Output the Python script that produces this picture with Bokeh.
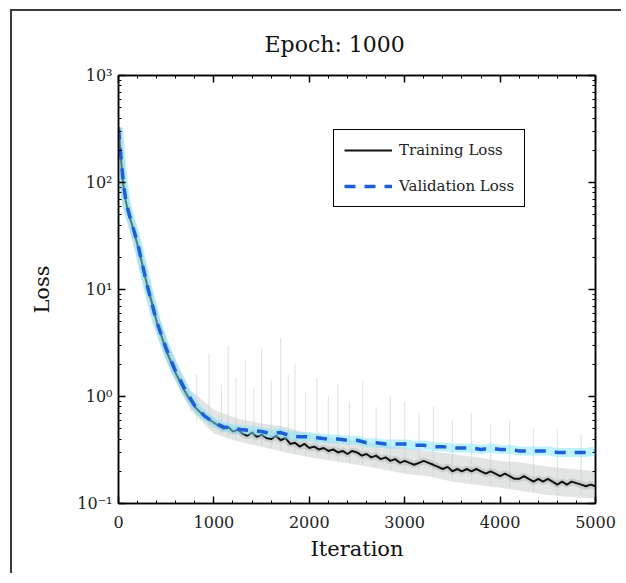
from bokeh.plotting import figure
from bokeh.models import (Range1d, FixedTicker, LinearAxis, LogAxis, Legend, LegendItem)
from bokeh.embed import file_html
from bokeh.resources import INLINE

# ---------------- data ----------------
val_iter = [0, 25, 50, 75, 100, 200, 300, 400, 500, 600, 700, 800, 900, 1000,
            1100, 1200, 1300, 1400, 1500, 1600, 1700, 1800, 1900, 2000, 2100,
            2200, 2300, 2400, 2500, 2600, 2700, 2800, 2900, 3000, 3100, 3200,
            3300, 3400, 3500, 3600, 3700, 3800, 3900, 4000, 4100, 4200, 4300,
            4400, 4500, 4600, 4700, 4800, 4900, 5000]
val_loss = [320, 175, 100, 70, 55, 27, 11, 5.0, 2.8, 1.7, 1.15, 0.82, 0.66, 0.57,
            0.52, 0.50, 0.49, 0.48, 0.47, 0.45, 0.46, 0.43, 0.42, 0.42, 0.41,
            0.40, 0.40, 0.39, 0.39, 0.37, 0.37, 0.36, 0.36, 0.36, 0.35, 0.35,
            0.34, 0.34, 0.33, 0.33, 0.33, 0.32, 0.33, 0.32, 0.32, 0.31, 0.31,
            0.31, 0.31, 0.30, 0.30, 0.30, 0.30, 0.31]

train_iter = [0, 25, 50, 75, 100, 150, 200, 250, 300, 350, 400, 450, 500, 550,
              600, 650, 700, 750, 800, 850, 900, 950, 1000, 1050, 1100, 1150,
              1200, 1250, 1300, 1350, 1400, 1450, 1500, 1550, 1600, 1650, 1700,
              1750, 1800, 1850, 1900, 1950, 2000, 2050, 2100, 2150, 2200, 2250,
              2300, 2350, 2400, 2450, 2500, 2550, 2600, 2650, 2700, 2750, 2800,
              2850, 2900, 2950, 3000, 3050, 3100, 3150, 3200, 3250, 3300, 3350,
              3400, 3450, 3500, 3550, 3600, 3650, 3700, 3750, 3800, 3850, 3900,
              3950, 4000, 4050, 4100, 4150, 4200, 4250, 4300, 4350, 4400, 4450,
              4500, 4550, 4600, 4650, 4700, 4750, 4800, 4850, 4900, 4950, 5000]
train_loss = [330, 170, 95, 68, 54, 38, 26, 17, 11, 7.5, 5.0, 3.7, 2.7, 2.1,
              1.65, 1.35, 1.1, 0.93, 0.80, 0.72, 0.66, 0.61, 0.57, 0.53, 0.50, 0.52,
              0.47, 0.49, 0.45, 0.43, 0.46, 0.42, 0.44, 0.41, 0.40, 0.43, 0.39,
              0.41, 0.36, 0.37, 0.34, 0.36, 0.33, 0.34, 0.32, 0.33, 0.31, 0.32,
              0.30, 0.31, 0.29, 0.31, 0.30, 0.28, 0.29, 0.27, 0.28, 0.26, 0.27,
              0.25, 0.26, 0.24, 0.25, 0.24, 0.23, 0.24, 0.25, 0.24, 0.23, 0.22,
              0.21, 0.22, 0.20, 0.21, 0.20, 0.21, 0.20, 0.21, 0.20, 0.19, 0.20,
              0.19, 0.18, 0.19, 0.18, 0.17, 0.17, 0.18, 0.17, 0.16, 0.17, 0.16,
              0.17, 0.16, 0.15, 0.16, 0.15, 0.16, 0.155, 0.15, 0.145, 0.15, 0.145]

band_iter = [300, 500, 750, 1000, 1250, 1500, 1750, 2000, 2250, 2500, 2750, 3000,
             3250, 3500, 3750, 4000, 4250, 4500, 4750, 5000]
band_lo = [10, 2.2, 0.75, 0.45, 0.38, 0.34, 0.30, 0.27, 0.25, 0.23, 0.21, 0.19,
           0.18, 0.16, 0.15, 0.14, 0.13, 0.12, 0.115, 0.11]
band_hi = [12.5, 3.4, 1.15, 0.75, 0.62, 0.56, 0.52, 0.45, 0.41, 0.39, 0.36, 0.33,
           0.31, 0.29, 0.27, 0.25, 0.24, 0.22, 0.21, 0.20]

spike_iter = [820, 950, 1080, 1150, 1230, 1330, 1420, 1500, 1600, 1700, 1780, 1850,
              1960, 2080, 2200, 2300, 2420, 2560, 2700, 2850, 3000, 3150, 3300,
              3500, 3700, 3900, 4100, 4350, 4600, 4850]
spike_low = [0.6, 0.5, 0.45, 0.42, 0.40, 0.38, 0.36, 0.35, 0.33, 0.31, 0.30, 0.29,
             0.28, 0.27, 0.26, 0.25, 0.24, 0.23, 0.22, 0.21, 0.20, 0.19, 0.18,
             0.17, 0.16, 0.15, 0.14, 0.13, 0.12, 0.12]
spike_top = [1.6, 2.5, 1.3, 3.0, 1.5, 2.2, 1.2, 2.8, 1.4, 3.5, 1.6, 2.0,
             1.1, 1.5, 1.0, 1.3, 0.9, 1.4, 0.8, 1.0, 0.9, 0.7, 0.8,
             0.6, 0.7, 0.55, 0.6, 0.5, 0.5, 0.45]

x_ticks = [0, 1000, 2000, 3000, 4000, 5000]
y_ticks = [0.1, 1, 10, 100, 1000]
y_tick_labels = {0.1: "10\u207b\u00b9", 1: "10\u2070", 10: "10\u00b9", 100: "10\u00b2", 1000: "10\u00b3"}

FONT = "DejaVu Serif"

# ---------------- figure ----------------
p = figure(output_backend="svg", toolbar_location=None, y_axis_type="log",
           frame_width=477, frame_height=428,
           min_border_left=106, min_border_top=64, min_border_right=26, min_border_bottom=70,
           x_range=Range1d(0, 5000), y_range=Range1d(0.1, 1000),
           title="Epoch: 1000")
# thin dark frame on the left and top edges of the picture
p.styles = {"margin-left": "12px", "margin-top": "11px",
            "box-shadow": ("-22px -22px 0px -20px #3a3a3a, "
                           "-22px 20px 0px -20px #3a3a3a, "
                           "20px -22px 0px -20px #3a3a3a")}
p.title.align = "left"
p.title.offset = 146
p.title.standoff = 37
p.title.text_font = FONT
p.title.text_font_size = "22px"
p.title.text_font_style = "normal"
p.title.text_color = "#111111"
p.grid.visible = False
p.outline_line_color = "black"
p.outline_line_width = 1.5
p.background_fill_color = "white"
p.border_fill_color = "white"

xt = FixedTicker(ticks=x_ticks, minor_ticks=list(range(0, 5001, 200)))
yt = FixedTicker(ticks=y_ticks,
                 minor_ticks=[m * 10.0 ** e for e in range(-1, 3) for m in range(2, 10)])

def style_axis(ax, labels=True):
    ax.axis_line_color = "black"
    ax.axis_line_width = 1.5
    ax.major_tick_in = 7
    ax.major_tick_out = 0
    ax.minor_tick_in = 3
    ax.minor_tick_out = 0
    ax.major_tick_line_width = 1.5
    ax.minor_tick_line_width = 1
    ax.major_label_text_font = FONT
    ax.major_label_text_font_size = "16px"
    ax.major_label_text_color = "#222222"
    ax.axis_label_text_font = FONT
    ax.axis_label_text_font_size = "21px"
    ax.axis_label_text_font_style = "normal"
    ax.axis_label_text_color = "#111111"
    if not labels:
        ax.major_label_text_font_size = "0px"
        ax.major_label_text_alpha = 0

xa = p.xaxis[0]
xa.ticker = xt
style_axis(xa)
xa.axis_label = "Iteration"
xa.major_label_standoff = 12
xa.axis_label_standoff = 6

ya = p.yaxis[0]
ya.ticker = yt
ya.major_label_overrides = y_tick_labels
style_axis(ya)
ya.axis_label = "Loss"
ya.major_label_standoff = 6
ya.axis_label_standoff = 20

top_ax = LinearAxis(ticker=xt)
style_axis(top_ax, labels=False)
p.add_layout(top_ax, "above")
right_ax = LogAxis(ticker=yt)
style_axis(right_ax, labels=False)
p.add_layout(right_ax, "right")

# ---------------- glyphs ----------------
p.varea(x=band_iter, y1=band_lo, y2=band_hi, fill_color="#c8cccc", fill_alpha=0.5)
p.segment(x0=spike_iter, y0=spike_low, x1=spike_iter, y1=spike_top,
          line_color="#c8cccc", line_width=1.2, line_alpha=0.5)
p.line(train_iter, train_loss, line_color="#b0b4b4", line_width=7, line_alpha=0.45)
r_train = p.line(train_iter, train_loss, line_color="#111111", line_width=2)
p.line(val_iter, val_loss, line_color="#7fe6ff", line_width=9, line_alpha=0.5)
r_val = p.line(val_iter, val_loss, line_color="#1f5fd6", line_width=3.5, line_dash="11 9")

legend = Legend(items=[LegendItem(label="Training Loss", renderers=[r_train]),
                       LegendItem(label="Validation Loss", renderers=[r_val])],
                location=(215, 296))
legend.label_text_font = FONT
legend.label_text_font_size = "15px"
legend.label_text_color = "#222222"
legend.glyph_width = 48
legend.glyph_height = 20
legend.label_standoff = 7
legend.spacing = 16
legend.padding = 10
legend.margin = 0
legend.border_line_color = "black"
legend.border_line_width = 1.5
legend.border_line_alpha = 1
legend.background_fill_color = "white"
legend.background_fill_alpha = 1
p.add_layout(legend, "center")

open("out.html", "w").write(file_html(p, INLINE))
